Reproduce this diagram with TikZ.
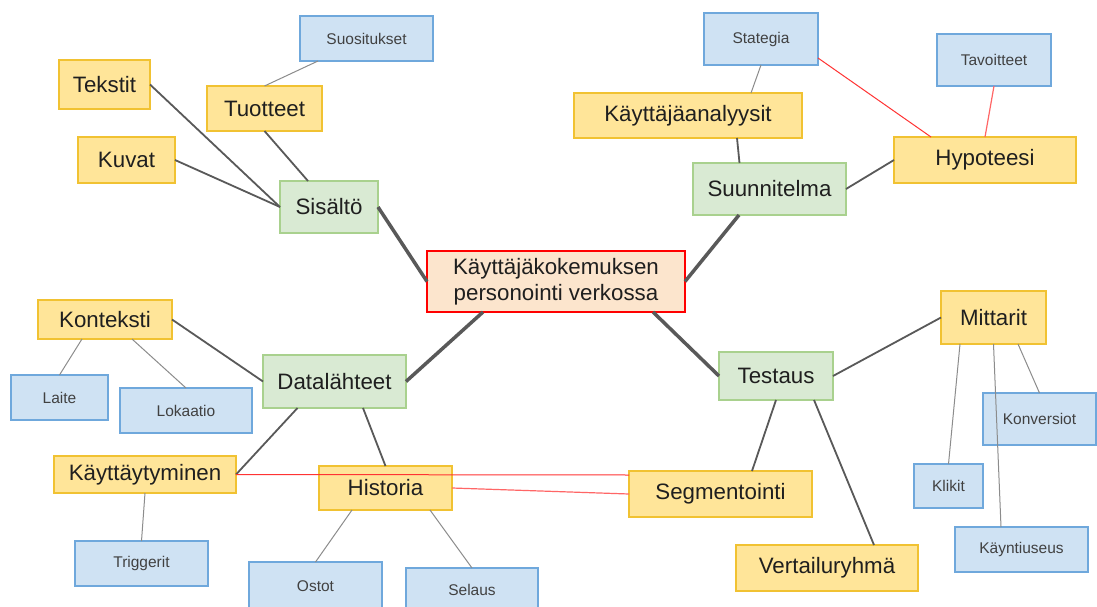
\documentclass[tikz,border=0pt]{standalone}
\usepackage{fontspec}
\setmainfont{Liberation Sans}
\definecolor{yfill}{HTML}{FFE599}
\definecolor{ydraw}{HTML}{F1C232}
\definecolor{gfill}{HTML}{D9EAD3}
\definecolor{gdraw}{HTML}{A9D18E}
\definecolor{bfill}{HTML}{CFE2F3}
\definecolor{bdraw}{HTML}{6FA8DC}
\definecolor{cfill}{HTML}{FCE5CD}
\definecolor{cdraw}{HTML}{FF0000}
\definecolor{lnd}{HTML}{595959}
\definecolor{lnt}{HTML}{8C8C8C}
\definecolor{lnr}{HTML}{FF3333}
\definecolor{lnp}{HTML}{FF6666}
\definecolor{txt}{HTML}{1F1F1F}
\begin{document}
\begin{tikzpicture}[x=1pt,y=-1pt,
  every node/.style={inner sep=0pt, outer sep=0pt, align=center, text=txt},
  ybox/.style={draw=ydraw, fill=yfill, line width=1.8pt, font=\fontsize{22.3}{26}\selectfont},
  gbox/.style={draw=gdraw, fill=gfill, line width=1.2pt, font=\fontsize{22.3}{26}\selectfont},
  bbox/.style={draw=bdraw, fill=bfill, line width=1.2pt, font=\fontsize{15.5}{18}\selectfont, text=txt!85!white},
  cbox/.style={draw=cdraw, fill=cfill, line width=1.8pt, font=\fontsize{22.3}{26}\selectfont},
  thickln/.style={draw=lnd, line width=3.5pt},
  medln/.style={draw=lnd, line width=1.8pt},
  thinln/.style={draw=lnt, line width=1pt},
  redln/.style={draw=lnr, line width=1pt},
  pinkln/.style={draw=lnp, line width=1.2pt}]
\useasboundingbox (0,0) rectangle (1097,607);
\clip (0,0) rectangle (1097,607);
\fill[white] (0,0) rectangle (1097,607);

% nodes
\node[bbox, minimum width=133pt, minimum height=45pt] (sug) at (366.5,38.5) {Suositukset};
\node[ybox, minimum width=91pt, minimum height=49pt] (tek) at (104.5,84.5) {Tekstit};
\node[ybox, minimum width=115pt, minimum height=45pt] (tuo) at (264.5,108.5) {Tuotteet};
\node[ybox, minimum width=97pt, minimum height=46pt] (kuv) at (126.5,160) {Kuvat};
\node[gbox, minimum width=98pt, minimum height=52pt] (sis) at (329,207) {Sisältö};
\node[bbox, minimum width=114pt, minimum height=52pt] (sta) at (761,39) {Stategia};
\node[bbox, minimum width=114pt, minimum height=52pt] (tav) at (994,60) {Tavoitteet};
\node[ybox, minimum width=228pt, minimum height=45pt] (kay) at (688,115.5) {Käyttäjäanalyysit};
\node[ybox, minimum width=182pt, minimum height=46pt] (hyp) at (985,160) {Hypoteesi};
\node[gbox, minimum width=153pt, minimum height=52pt] (sun) at (769.5,189) {Suunnitelma};
\node[cbox, minimum width=258pt, minimum height=61pt] (cen) at (556,281.5) {Käyttäjäkokemuksen\\personointi verkossa};
\node[ybox, minimum width=134pt, minimum height=39pt] (kon) at (105,319.5) {Konteksti};
\node[bbox, minimum width=97pt, minimum height=45pt] (lai) at (59.5,397.5) {Laite};
\node[bbox, minimum width=132pt, minimum height=45pt] (lok) at (186,410.5) {Lokaatio};
\node[gbox, minimum width=143pt, minimum height=53pt] (dat) at (334.5,381.5) {Datalähteet};
\node[ybox, minimum width=182pt, minimum height=37pt] (kyt) at (145,474.5) {Käyttäytyminen};
\node[ybox, minimum width=133pt, minimum height=44pt] (his) at (385.5,488) {Historia};
\node[bbox, minimum width=133pt, minimum height=45pt] (tri) at (141.5,563.5) {Triggerit};
\node[bbox, minimum width=133pt, minimum height=53pt] (ost) at (315.5,588.5) {\raisebox{4pt}{Ostot}};
\node[bbox, minimum width=132pt, minimum height=47pt] (sel) at (472,591.5) {\raisebox{3pt}{Selaus}};
\node[ybox, minimum width=183pt, minimum height=46pt] (seg) at (720.5,494) {Segmentointi};
\node[ybox, minimum width=182pt, minimum height=46pt] (ver) at (827,568) {Vertailuryhmä};
\node[gbox, minimum width=114pt, minimum height=48pt] (tes) at (776,376) {Testaus};
\node[ybox, minimum width=105pt, minimum height=53pt] (mit) at (993.5,317.5) {Mittarit};
\node[bbox, minimum width=113pt, minimum height=52pt] (kvr) at (1039.5,419) {Konversiot};
\node[bbox, minimum width=69pt, minimum height=44pt] (kli) at (948.5,486) {Klikit};
\node[bbox, minimum width=133pt, minimum height=45pt] (kyn) at (1021.5,549.5) {Käyntiuseus};

% thick connectors to the centre
\draw[thickln] (sis.east) -- (cen.west);
\draw[thickln] ([xshift=-30.5pt]sun.south) -- (cen.east);
\draw[thickln] (dat.east) -- ([xshift=-73pt]cen.south);
\draw[thickln] (tes.west) -- ([xshift=97pt]cen.south);

% medium connectors
\draw[medln] (tek.east) -- (sis.west);
\draw[medln] (kuv.east) -- (sis.west);
\draw[medln] (tuo.south) -- ([xshift=-21pt]sis.north);
\draw[medln] ([xshift=49pt]kay.south) -- ([xshift=-30pt]sun.north);
\draw[medln] (sun.east) -- (hyp.west);
\draw[medln] (kon.east) -- (dat.west);
\draw[medln] ([xshift=-37pt]dat.south) -- (kyt.east);
\draw[medln] ([xshift=28.5pt]dat.south) -- (his.north);
\draw[medln] (tes.east) -- (mit.west);
\draw[medln] (tes.south) -- ([xshift=31.5pt]seg.north);
\draw[medln] ([xshift=38pt]tes.south) -- ([xshift=47pt]ver.north);

% thin connectors
\draw[thinln] ([xshift=18pt]sug.south west) -- (tuo.north);
\draw[thinln] (sta.south) -- ([xshift=63pt]kay.north);
\draw[thinln] ([xshift=-23pt]kon.south) -- (lai.north);
\draw[thinln] ([xshift=27pt]kon.south) -- (lok.north);
\draw[thinln] (kyt.south) -- (tri.north);
\draw[thinln] ([xshift=-33.5pt]his.south) -- (ost.north);
\draw[thinln] ([xshift=44.5pt]his.south) -- (sel.north);
\draw[thinln] ([xshift=-33.5pt]mit.south) -- (kli.north);
\draw[thinln] (mit.south) -- ([xshift=-20.5pt]kyn.north);
\draw[thinln] ([xshift=24.5pt]mit.south) -- (kvr.north);

% red connectors
\draw[redln] ([yshift=-19pt]sta.east) -- ([xshift=-54pt]hyp.north);
\draw[pinkln] (tav.south) -- (hyp.north);
\draw[redln] (kyt.east) -- ([yshift=19pt]seg.west);
\draw[pinkln] (his.east) -- (seg.west);
\end{tikzpicture}
\end{document}
